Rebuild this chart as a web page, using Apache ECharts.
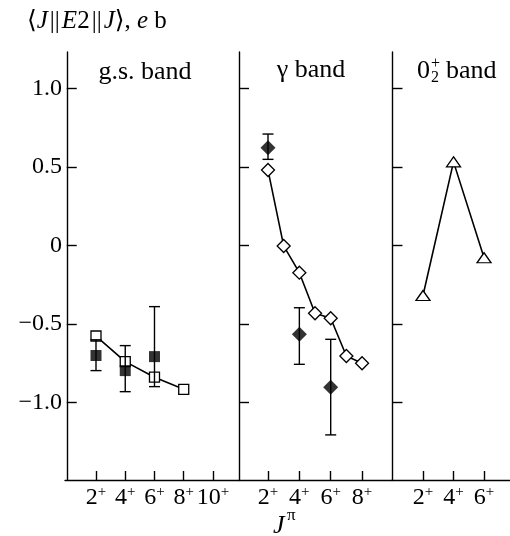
<!DOCTYPE html>
<html>
<head>
<meta charset="utf-8">
<script src="https://cdn.jsdelivr.net/npm/echarts@6/dist/echarts.min.js"></script>
<style>html,body{margin:0;padding:0;background:#fff}#c{width:510px;height:536px}</style>
</head>
<body>
<div id="c"></div>
<script>
// ---- data ----
const yTicks = [-1, -0.5, 0, 0.5, 1];
const gsTicks = [2, 4, 6, 8, 10];
const gammaTicks = [2, 4, 6, 8];
const zeroTicks = [2, 4, 6];

const gsJ = [2, 4, 6, 8];
const gsTheory = [-0.576, -0.739, -0.838, -0.915];
const gsExpJ = [2, 4, 6];
const gsExp = [-0.70, -0.796, -0.707];
const gsExpLow = [-0.796, -0.93, -0.898];
const gsExpHigh = [-0.60, -0.637, -0.389];

const gammaJ = [2, 3, 4, 5, 6, 7, 8];
const gammaTheory = [0.48, -0.003, -0.173, -0.431, -0.463, -0.703, -0.749];
const gammaExpJ = [2, 4, 6];
const gammaExp = [0.622, -0.565, -0.902];
const gammaExpLow = [0.548, -0.756, -1.205];
const gammaExpHigh = [0.709, -0.396, -0.597];

const zeroJ = [2, 4, 6];
const zeroTheory = [-0.318, 0.532, -0.078];

// ---- helpers ----
const FONT = '"Liberation Serif","DejaVu Serif",serif';
const pairs = (xs, ys) => xs.map((x, i) => [x, ys[i]]);
const triples = (xs, ys, lo, hi) => xs.map((x, i) => [x, ys[i], lo[i], hi[i]]);

const yMin = -1.492, yMax = 1.231;
function yAxis(idx, showLabels) {
  return {
    type: 'value', gridIndex: idx, min: yMin, max: yMax,
    axisLine: { show: true, lineStyle: { color: '#000', width: 1.4 } },
    axisTick: { show: true, inside: true, length: 10, customValues: yTicks, lineStyle: { color: '#000', width: 1.4 } },
    axisLabel: {
      show: showLabels, customValues: yTicks, margin: 3, fontFamily: FONT, fontSize: 24, color: '#000',
      formatter: v => v === 0 ? '0' : (v < 0 ? '\u2212' : '') + Math.abs(v).toFixed(1)
    },
    splitLine: { show: false }
  };
}
function xAxis(idx, min, max, ticks) {
  return {
    type: 'value', gridIndex: idx, min: min, max: max,
    axisLine: { show: true, onZero: false, lineStyle: { color: '#000', width: 1.4 } },
    axisTick: { show: true, inside: true, length: 9, customValues: ticks, lineStyle: { color: '#000', width: 1.4 } },
    axisLabel: {
      customValues: ticks, margin: 5, color: '#000',
      formatter: v => '{n|' + v + '}{s|+}',
      rich: {
        n: { fontFamily: FONT, fontSize: 24, color: '#000', lineHeight: 26 },
        s: { fontFamily: FONT, fontSize: 15, color: '#000', verticalAlign: 'top', lineHeight: 26, padding: [0, 0, 10, 0] }
      }
    },
    splitLine: { show: false }
  };
}
function errorBars(xi, data) {
  return {
    type: 'custom', xAxisIndex: xi, yAxisIndex: xi, z: 3,
    data: data,
    renderItem: (params, api) => {
      const lo = api.coord([api.value(0), api.value(2)]);
      const hi = api.coord([api.value(0), api.value(3)]);
      const hw = 5.5;
      const st = { stroke: '#000', lineWidth: 1.4 };
      return {
        type: 'group', children: [
          { type: 'line', shape: { x1: lo[0], y1: lo[1], x2: hi[0], y2: hi[1] }, style: st },
          { type: 'line', shape: { x1: lo[0] - hw, y1: lo[1], x2: lo[0] + hw, y2: lo[1] }, style: st },
          { type: 'line', shape: { x1: hi[0] - hw, y1: hi[1], x2: hi[0] + hw, y2: hi[1] }, style: st }
        ]
      };
    }
  };
}
function theory(xi, data, symbol, size) {
  return {
    type: 'line', xAxisIndex: xi, yAxisIndex: xi, data: data, z: 2,
    symbol: symbol, symbolSize: size, showAllSymbol: true,
    lineStyle: { color: '#000', width: 1.6 },
    itemStyle: { color: '#fff', borderColor: '#000', borderWidth: 1.3 },
    emphasis: { disabled: true }, animation: false
  };
}
function exp(xi, data, symbol, size) {
  return {
    type: 'scatter', xAxisIndex: xi, yAxisIndex: xi, data: data, z: 4,
    symbol: symbol, symbolSize: size,
    itemStyle: { color: '#000', borderColor: '#000', borderWidth: 0 },
    emphasis: { disabled: true }, animation: false
  };
}

const chart = echarts.init(document.getElementById('c'), null, { renderer: 'canvas' });
chart.setOption({
  animation: false,
  backgroundColor: '#fff',
  grid: [
    { left: 65, top: 52, width: 174, height: 428 },
    { left: 239, top: 52, width: 153, height: 428 },
    { left: 392, top: 52, width: 118, height: 428 }
  ],
  xAxis: [
    xAxis(0, -0.12, 11.78, gsTicks),
    xAxis(1, 0.15, 9.91, gammaTicks),
    xAxis(2, -0.03, 7.70, zeroTicks)
  ],
  yAxis: [yAxis(0, true), yAxis(1, false), yAxis(2, false)],
  series: [
    theory(0, pairs(gsJ, gsTheory), 'rect', 10),
    errorBars(0, triples(gsExpJ, gsExp, gsExpLow, gsExpHigh)),
    exp(0, pairs(gsExpJ, gsExp), 'rect', 11),
    theory(1, pairs(gammaJ, gammaTheory), 'diamond', 13),
    errorBars(1, triples(gammaExpJ, gammaExp, gammaExpLow, gammaExpHigh)),
    exp(1, pairs(gammaExpJ, gammaExp), 'diamond', 15),
    theory(2, pairs(zeroJ, zeroTheory), 'triangle', [14, 10])
  ],
  graphic: [
    { type: 'text', left: 27, top: 9, style: {
      text: '\u27E8{i|J}{p|||}{i|E}2{p|||}{i|J}\u27E9, {i|e} b',
      fontFamily: FONT, fontSize: 25, fill: '#000',
      rich: {
        i: { fontFamily: FONT, fontSize: 25, fontStyle: 'italic', fill: '#000' },
        p: { fontFamily: FONT, fontSize: 25, fill: '#000', padding: [0, 2, 0, 2] }
      }
    } },
    { type: 'text', x: 145, y: 72, style: { text: 'g.s. band', fontFamily: FONT, fontSize: 26, fill: '#000', align: 'center', verticalAlign: 'middle' } },
    { type: 'text', x: 311, y: 70, style: { text: '\u03B3 band', fontFamily: FONT, fontSize: 26, fill: '#000', align: 'center', verticalAlign: 'middle' } },
    { type: 'text', x: 417, y: 71, style: { text: '0', fontFamily: FONT, fontSize: 26, fill: '#000', align: 'left', verticalAlign: 'middle' } },
    { type: 'text', x: 431, y: 64, style: { text: '+', fontFamily: FONT, fontSize: 16, fill: '#000', align: 'left', verticalAlign: 'middle' } },
    { type: 'text', x: 431, y: 78, style: { text: '2', fontFamily: FONT, fontSize: 16, fill: '#000', align: 'left', verticalAlign: 'middle' } },
    { type: 'text', x: 446, y: 71, style: { text: 'band', fontFamily: FONT, fontSize: 26, fill: '#000', align: 'left', verticalAlign: 'middle' } },
    { type: 'text', x: 273, y: 526, style: { text: 'J', fontFamily: FONT, fontSize: 26, fontStyle: 'italic', fill: '#000', align: 'left', verticalAlign: 'middle' } },
    { type: 'text', x: 287, y: 516, style: { text: '\u03C0', fontFamily: FONT, fontSize: 17, fill: '#000', align: 'left', verticalAlign: 'middle' } }
  ]
});
</script>
</body>
</html>
